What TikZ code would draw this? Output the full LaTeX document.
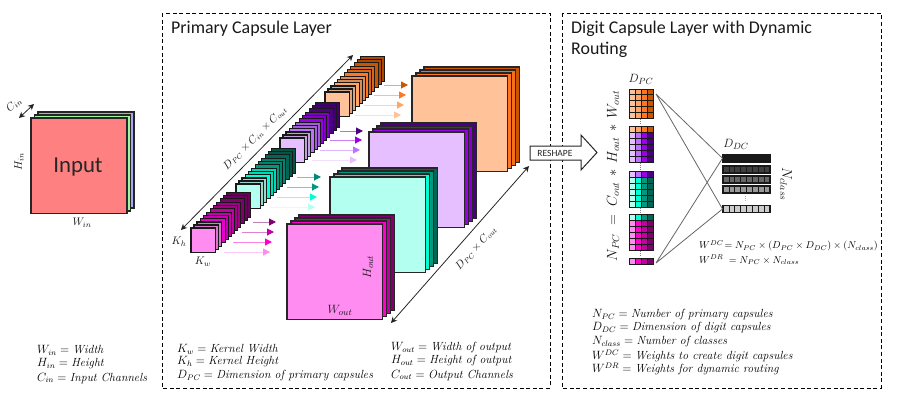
\documentclass[tikz,border=0pt]{standalone}
\usepackage{fontspec}
\setsansfont{Carlito}
\usetikzlibrary{arrows.meta}
\definecolor{pa}{HTML}{FF8CF0}\definecolor{pb}{HTML}{E800D0}\definecolor{pc}{HTML}{FF00CC}\definecolor{pd}{HTML}{800070}
\definecolor{pe}{HTML}{C000A0}
\definecolor{ta}{HTML}{B3FFF0}\definecolor{tb}{HTML}{00FFD5}\definecolor{tc}{HTML}{009980}\definecolor{td}{HTML}{006655}
\definecolor{ua}{HTML}{E5BFFF}\definecolor{ub}{HTML}{C070FF}\definecolor{uc}{HTML}{9900E6}\definecolor{ud}{HTML}{4B0082}
\definecolor{oa}{HTML}{FFC299}\definecolor{ob}{HTML}{FFA566}\definecolor{oc}{HTML}{FF7722}\definecolor{od}{HTML}{CC5500}
\definecolor{ired}{HTML}{FF8080}\definecolor{igreen}{HTML}{A0F5A0}\definecolor{iblue}{HTML}{A8A8F0}
\newcommand{\fsz}[1]{\fontsize{#1}{#1}\selectfont}
\tikzset{
  dashbox/.style={draw=black,line width=0.9pt,dash pattern=on 4pt off 2.6pt},
  title/.style={anchor=west,inner sep=0pt,font=\sffamily\fsz{17.9},text=black!90},
  lab/.style={inner sep=0pt,font=\fsz{11},text=black!90},
  legend/.style={anchor=west,inner sep=0pt,font=\fsz{11.8},text=black},
  layer/.style={draw=black!90,line width=1.05pt},
  biglayer/.style={draw=black!85,line width=1.1pt},
  dim/.style={draw=black!85,line width=0.8pt,{Stealth[length=6pt,width=6pt,open,fill=black]}-{Stealth[length=6pt,width=6pt,open,fill=black]}},
  gridcell/.style={draw=black!90,line width=0.9pt},
  capcell/.style={draw=black!90,line width=0.7pt},
  capframe/.style={draw=black!90,line width=1.1pt},
  weight/.style={draw=black!60,line width=0.8pt},
  dotted line/.style={draw=black!50,line width=0.8pt,dash pattern=on 1pt off 1pt},
}
% small stack: x y of front square, four colours
\newcommand{\smallstack}[6]{%
  \foreach \i in {11,10,...,0}{%
    \pgfmathtruncatemacro{\s}{int(\i/3)}%
    \pgfmathtruncatemacro{\m}{mod(\i,3)}%
    \pgfmathsetmacro{\off}{\i*3+\s*0.7}%
    \ifcase\s\def\cc{#3}\or\def\cc{#4}\or\def\cc{#5}\or\def\cc{#6}\fi
    \ifnum\m=0 \def\mix{100}\else\def\mix{85}\fi
    \draw[layer,fill=\cc!\mix!black] ({#1+\off},{#2-\off}) rectangle ++(24.5,24.5);
  }%
}
% big stack
\newcommand{\bigstack}[6]{%
  \draw[biglayer,fill=#6] ({#1+12},{#2-9}) rectangle ++(95.5,95.5);
  \draw[biglayer,fill=#5] ({#1+8},{#2-6}) rectangle ++(95.5,95.5);
  \draw[biglayer,fill=#4] ({#1+4},{#2-3}) rectangle ++(95.5,95.5);
  \draw[biglayer,fill=#3] (#1,#2) rectangle ++(95.5,95.5);
}
\newcommand{\flowarrow}[5]{%
  \coordinate (#1s) at (#2,#4); \coordinate (#1e) at (#3,#4);
  \draw[#5!50!white,line width=1pt,-{Triangle[length=7pt,width=7pt,color=#5]}] (#1s) -- (#1e);
}
\newcommand{\cellrow}[6]{%
  \foreach \k/\c in {0/#3,1/#4,2/#5,3/#6}{%
    \draw[gridcell,fill=\c] ({629+6*\k},#1) rectangle ++(6,#2);
  }%
}
\newcommand{\caprow}[4]{%
  \foreach \k in {0,...,7}{\draw[capcell,fill=#3] ({723+5.875*\k},#1) rectangle ++(5.875,#2);}
  \draw[capframe] (723,#1) rectangle ++(47,#2);
  \coordinate (#4) at (722.5,{#1+#2/2});
}
\begin{document}
\begin{tikzpicture}[x=1pt,y=-1pt]
\useasboundingbox (0,0) rectangle (897,402);
% --- input ---
\draw[biglayer,fill=iblue] (38,112) rectangle ++(96,96);
\draw[biglayer,fill=igreen] (34.5,115) rectangle ++(96,96);
\draw[biglayer,fill=ired] (31,118) rectangle ++(96,95.5);
\node[inner sep=0pt,font=\sffamily\fsz{22.8},text=black!85] (inp) at (78,167) {Input};
\coordinate (cinA) at (19,118); \coordinate (cinB) at (34,104);
\draw[dim] (cinA) -- (cinB);
\node[lab,rotate=40] (cin) at (14,105) {$C_{in}$};
\node[lab,rotate=90] (hin) at (19,162) {$H_{in}$};
\node[lab] (win) at (82,223) {$W_{in}$};
% --- frames ---
\draw[dashbox] (162,13) rectangle (550,388);
\draw[dashbox] (562,13) rectangle (881,388);
\node[title] (t1) at (171,29) {Primary Capsule Layer};
\node[title] (t2) at (571,29) {Digit Capsule Layer with Dynamic};
\node[title] (t3) at (571,50) {Routing};
% --- small stacks ---
\smallstack{325}{92}{oa}{ob}{oc}{od}
\smallstack{280}{138}{ua}{ub}{uc}{ud}
\smallstack{236}{184}{ta}{tb}{tc}{td}
\smallstack{191}{228}{pa}{pb}{pe}{pd}
% --- flow arrows ---
\flowarrow{o4}{384}{408}{85}{od}\flowarrow{o3}{374}{406}{95}{oc}\flowarrow{o2}{364}{404}{105}{ob}\flowarrow{o1}{355}{401}{115}{oa}
\flowarrow{u4}{340}{363}{131}{ud}\flowarrow{u3}{330}{362}{140}{uc}\flowarrow{u2}{320}{360}{150}{ub}\flowarrow{u1}{312}{357}{160}{ua}
\flowarrow{t4}{297}{321}{177}{tc!70!td}\flowarrow{t3}{287}{319}{187}{tc}\flowarrow{t2}{277}{317}{197}{tb}\flowarrow{t1}{269}{315}{207}{ta}
\flowarrow{p4}{253}{276}{222}{pd}\flowarrow{p3}{242}{274}{232}{pe}\flowarrow{p2}{233}{272}{242}{pc}\flowarrow{p1}{224}{270}{252}{pa}
% --- big stacks ---
\bigstack{412}{76}{oa}{oc}{oc!80!od}{od}
\bigstack{369}{132}{ua}{uc}{uc!75!ud}{ud}
\bigstack{330}{177}{ta}{tb}{tc}{td}
\bigstack{287}{224}{pa}{pc}{pe}{pd}
% --- dimension arrows ---
\coordinate (dA) at (181,230); \coordinate (dB) at (353,55);
\draw[dim] (dA) -- (dB);
\node[lab,rotate=45,font=\fsz{10.5}] (dl) at (255,138) {$D_{PC}\times C_{in}\times C_{out}$};
\coordinate (eA) at (391,323); \coordinate (eB) at (529,166);
\draw[dim] (eA) -- (eB);
\node[lab,rotate=48,font=\fsz{10.5}] (el) at (476,248) {$D_{PC}\times C_{out}$};
\node[lab] (kh) at (179,242) {$K_h$};
\node[lab] (kw) at (203,262) {$K_w$};
\node[lab,font=\fsz{13},rotate=90] (hout) at (368,267) {$H_{out}$};
\node[lab,font=\fsz{13}] (wout) at (340,310) {$W_{out}$};
% --- reshape ---
\draw[draw=black!85,fill=white,line width=1pt] (530,146) -- (581,146) -- (581,135) -- (597,152.5) -- (581,170) -- (581,160) -- (530,160) -- cycle;
\node[inner sep=0pt,font=\sffamily\fsz{9.5},text=black!85] (rs) at (555,153) {RESHAPE};
% --- primary capsule grid ---
\foreach \y in {89,94.8,100.6,106.4,112.2}{\cellrow{\y}{5.8}{oa}{ob}{oc}{od}}
\cellrow{126}{6}{oa}{ob}{oc}{od}
\foreach \y in {132,138,144,150,156}{\cellrow{\y}{6}{ua}{ub}{uc}{ud}}
\cellrow{171}{6}{ua}{ub}{uc}{ud}
\foreach \y in {177,183,189,195,201}{\cellrow{\y}{6}{ta}{tb}{tc}{td}}
\cellrow{214}{6}{ta}{tb}{tc}{td}
\foreach \y in {220,226,232,238,244}{\cellrow{\y}{6}{pa}{pc}{pe}{pd}}
\cellrow{258}{6}{pa}{pc}{pe}{pd}
\foreach \a/\b in {119/125,163/170,208/213,251/257}{\draw[dotted line] (640,\a) -- (640,\b);}
\coordinate (gt) at (656,94); \coordinate (gb) at (656,263);
% --- digit capsules ---
\caprow{154.5}{7.5}{black!90}{c1}
\caprow{166}{7}{black!75}{c2}
\caprow{176}{7}{black!60}{c3}
\caprow{186}{7}{black!40}{c4}
\caprow{205.5}{7}{black!20}{c5}
\draw[dotted line,black!30] (745.5,196) -- (745.5,202);
\draw[weight] (gt) -- (c1) (gt) -- (c5) (gb) -- (c1) (gb) -- (c5);
\node[lab,font=\fsz{13}] (dpc) at (641,79) {$D_{PC}$};
\node[lab,font=\fsz{13}] (ddc) at (736,144) {$D_{DC}$};
\node[lab,font=\fsz{14.5},rotate=-90] (ncl) at (786,184) {$N_{class}$};
\node[lab,font=\fsz{14},rotate=90] (npc) at (613,176) {$N_{PC}\;=\;C_{out}\,*\,H_{out}\,*\,W_{out}$};
\node[legend,font=\fsz{10.3}] (w1) at (699,246) {$W^{DC}\!=N_{PC}\times(D_{PC}\times D_{DC})\times(N_{class})$};
\node[legend,font=\fsz{10.3}] (w2) at (699,260) {$W^{DR}\;=N_{PC}\times N_{class}$};
% --- legends ---
\node[legend] (l1) at (37,350) {$W_{in}=\textit{Width}$};
\node[legend] (l2) at (37,364) {$H_{in}=\textit{Height}$};
\node[legend] (l3) at (37,378) {$C_{in}=\textit{Input Channels}$};
\node[legend] (l4) at (177,349) {$K_w=\textit{Kernel Width}$};
\node[legend] (l5) at (177,362) {$K_h=\textit{Kernel Height}$};
\node[legend] (l6) at (177,376) {$D_{PC}=\textit{Dimension of primary capsules}$};
\node[legend] (l7) at (391,348) {$W_{out}=\textit{Width of output}$};
\node[legend] (l8) at (391,361) {$H_{out}=\textit{Height of output}$};
\node[legend] (l9) at (391,375) {$C_{out}=\textit{Output Channels}$};
\node[legend] (m1) at (592,315) {$N_{PC}=\textit{Number of primary capsules}$};
\node[legend] (m2) at (592,328) {$D_{DC}=\textit{Dimension of digit capsules}$};
\node[legend] (m3) at (592,342) {$N_{class}=\textit{Number of classes}$};
\node[legend] (m4) at (592,356) {$W^{DC}=\textit{Weights to create digit capsules}$};
\node[legend] (m5) at (592,369) {$W^{DR}=\textit{Weights for dynamic routing}$};
\end{tikzpicture}
\end{document}
